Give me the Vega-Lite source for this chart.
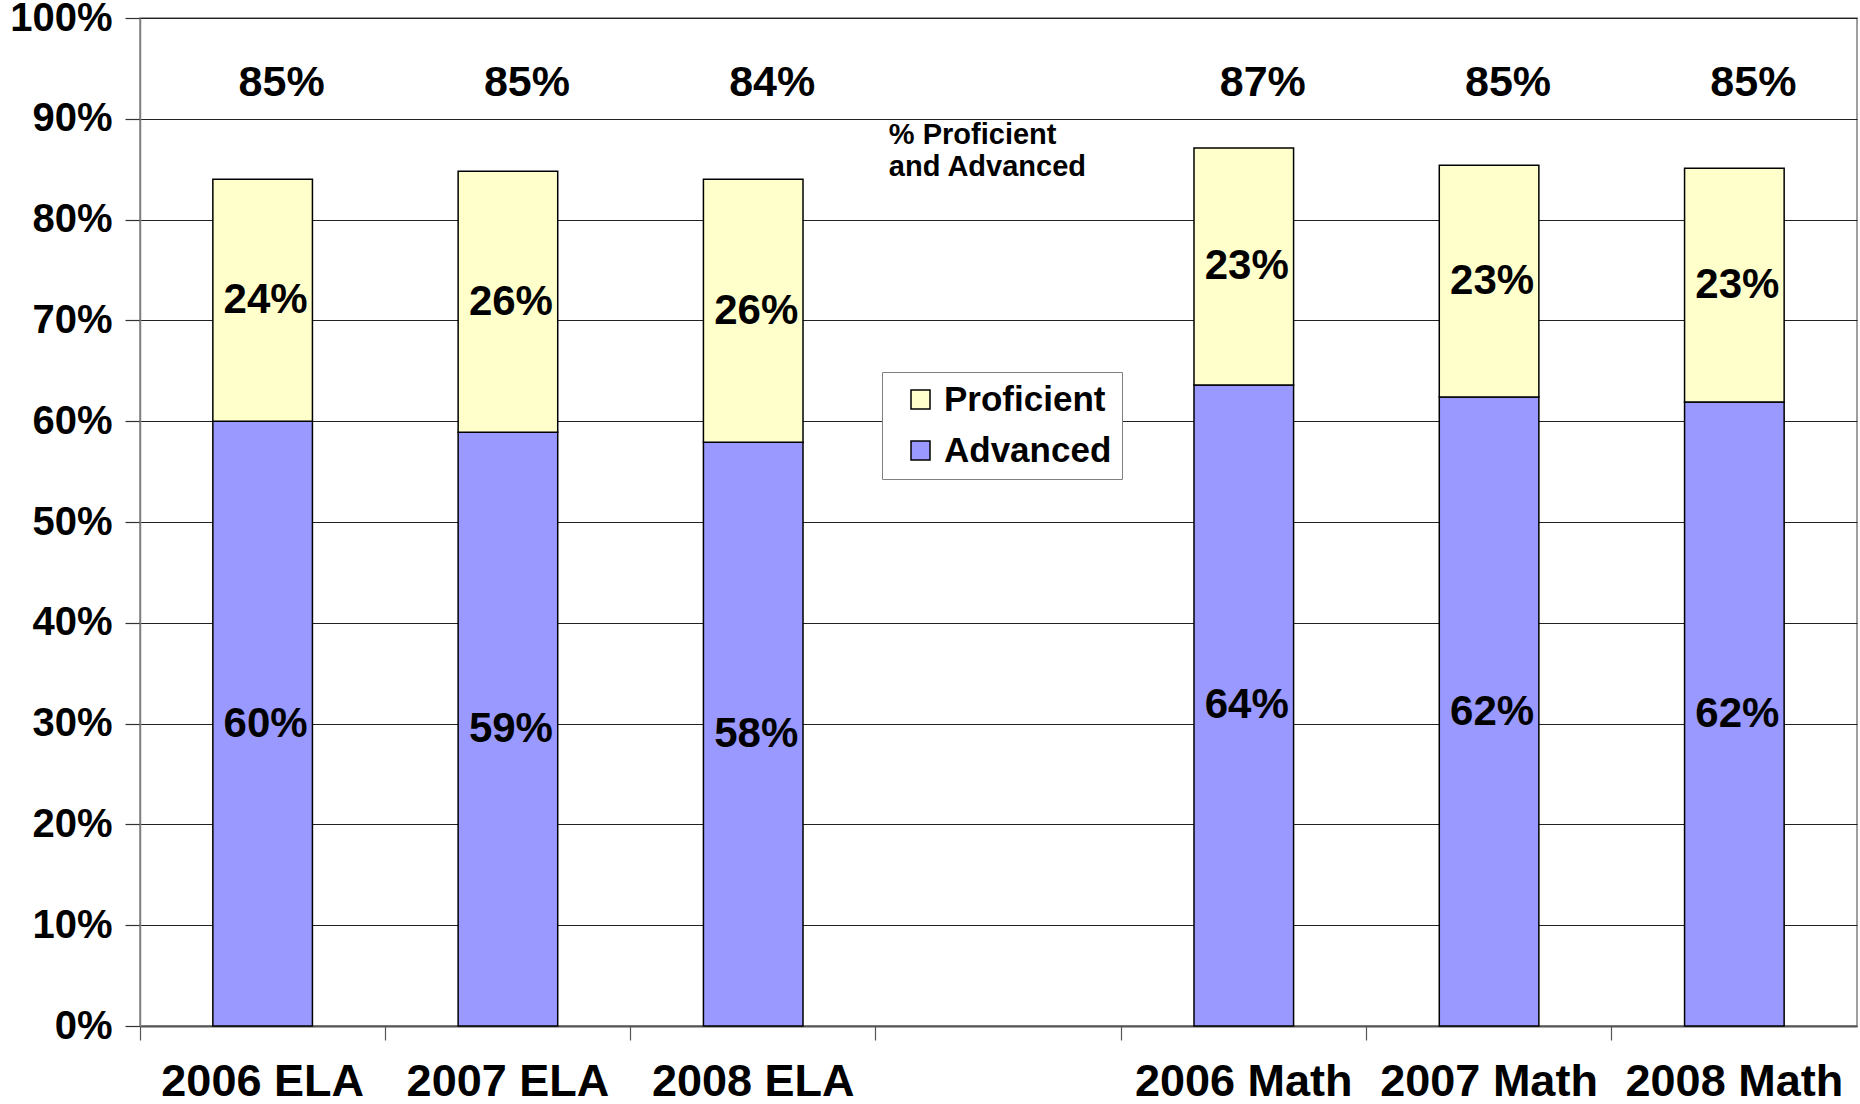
{
  "$schema": "https://vega.github.io/schema/vega-lite/v6.json",
  "width": 1717,
  "height": 1008,
  "autosize": {"type": "none"},
  "padding": {"left": 140, "top": 18, "right": 3, "bottom": 78},
  "background": "white",
  "config": {
    "view": {"stroke": "#808080", "strokeWidth": 1.5},
    "font": "Liberation Sans"
  },
  "datasets": {
    "segments": [
      {"group": "2006 ELA", "level": "Advanced", "value": 60, "label": "60%"},
      {"group": "2006 ELA", "level": "Proficient", "value": 24, "label": "24%"},
      {"group": "2007 ELA", "level": "Advanced", "value": 58.9, "label": "59%"},
      {"group": "2007 ELA", "level": "Proficient", "value": 25.9, "label": "26%"},
      {"group": "2008 ELA", "level": "Advanced", "value": 57.9, "label": "58%"},
      {"group": "2008 ELA", "level": "Proficient", "value": 26.1, "label": "26%"},
      {"group": "2006 Math", "level": "Advanced", "value": 63.6, "label": "64%"},
      {"group": "2006 Math", "level": "Proficient", "value": 23.5, "label": "23%"},
      {"group": "2007 Math", "level": "Advanced", "value": 62.4, "label": "62%"},
      {"group": "2007 Math", "level": "Proficient", "value": 23.0, "label": "23%"},
      {"group": "2008 Math", "level": "Advanced", "value": 61.9, "label": "62%"},
      {"group": "2008 Math", "level": "Proficient", "value": 23.2, "label": "23%"}
    ],
    "totals": [
      {"group": "2006 ELA", "total": "85%"},
      {"group": "2007 ELA", "total": "85%"},
      {"group": "2008 ELA", "total": "84%"},
      {"group": "2006 Math", "total": "87%"},
      {"group": "2007 Math", "total": "85%"},
      {"group": "2008 Math", "total": "85%"}
    ],
    "notes": [
      {"note": "% Proficient\nand Advanced"}
    ]
  },
  "layer": [
    {
      "data": {"name": "segments"},
      "mark": {"type": "bar", "stroke": "black", "strokeWidth": 1.5},
      "encoding": {
        "x": {
          "field": "group",
          "type": "nominal",
          "sort": null,
          "scale": {
            "domain": ["2006 ELA", "2007 ELA", "2008 ELA", " ", "2006 Math", "2007 Math", "2008 Math"],
            "paddingInner": 0.594,
            "paddingOuter": 0.297
          },
          "axis": {
            "title": null,
            "labelAngle": 0,
            "labelFont": "Liberation Sans",
            "labelFontSize": 45,
            "labelFontWeight": "bold",
            "labelColor": "black",
            "labelPadding": 19,
            "labelLimit": 0,
            "labelOverlap": false,
            "bandPosition": -0.7315,
            "tickSize": 14,
            "tickColor": "#555555",
            "tickWidth": 1.2,
            "domainColor": "#555555",
            "domainWidth": 2,
            "grid": false
          }
        },
        "y": {
          "field": "value",
          "type": "quantitative",
          "stack": "zero",
          "scale": {"domain": [0, 100], "nice": false},
          "axis": {
            "title": null,
            "values": [0, 10, 20, 30, 40, 50, 60, 70, 80, 90, 100],
            "labelExpr": "datum.value + '%'",
            "labelFont": "Liberation Sans",
            "labelFontSize": 40,
            "labelFontWeight": "bold",
            "labelColor": "black",
            "labelPadding": 13,
            "tickSize": 15,
            "tickColor": "#333333",
            "tickWidth": 1.2,
            "domainColor": "#808080",
            "domainWidth": 1.5,
            "grid": true,
            "gridColor": "#222222",
            "gridWidth": 1.2
          }
        },
        "color": {
          "field": "level",
          "type": "nominal",
          "scale": {"domain": ["Proficient", "Advanced"], "range": ["#FFFFCC", "#9999FF"]},
          "legend": {
            "title": null,
            "orient": "none",
            "legendX": 742,
            "legendY": 354,
            "fillColor": "white",
            "strokeColor": "#808080",
            "padding": 10,
            "labelFont": "Liberation Sans",
            "labelFontSize": 35,
            "labelFontWeight": "bold",
            "labelColor": "black",
            "labelLimit": 0,
            "symbolType": "square",
            "symbolSize": 361,
            "symbolStrokeColor": "black",
            "symbolStrokeWidth": 1.5,
            "symbolOpacity": 1,
            "rowPadding": 15,
            "labelOffset": 6,
            "symbolOffset": 11
          }
        },
        "order": {"field": "level", "sort": "ascending"}
      }
    },
    {
      "data": {"name": "segments"},
      "mark": {"type": "text", "font": "Liberation Sans", "fontSize": 42, "fontWeight": "bold", "color": "black", "dx": 3, "baseline": "middle"},
      "encoding": {
        "x": {"field": "group", "type": "nominal", "sort": null},
        "y": {"field": "value", "type": "quantitative", "stack": "zero", "bandPosition": 0.5},
        "order": {"field": "level", "sort": "ascending"},
        "detail": {"field": "level"},
        "text": {"field": "label"}
      }
    },
    {
      "data": {"name": "totals"},
      "mark": {"type": "text", "font": "Liberation Sans", "fontSize": 43, "fontWeight": "bold", "color": "black", "dx": 19, "baseline": "middle"},
      "encoding": {
        "x": {"field": "group", "type": "nominal", "sort": null},
        "y": {"datum": 93.6},
        "text": {"field": "total"}
      }
    },
    {
      "data": {"name": "notes"},
      "mark": {"type": "text", "font": "Liberation Sans", "fontSize": 29, "fontWeight": "bold", "color": "black", "align": "left", "baseline": "top", "lineBreak": "\n", "lineHeight": 32, "dx": 13},
      "encoding": {
        "x": {"datum": " ", "bandPosition": -0.7315},
        "y": {"datum": 89.8},
        "text": {"field": "note"}
      }
    }
  ]
}
